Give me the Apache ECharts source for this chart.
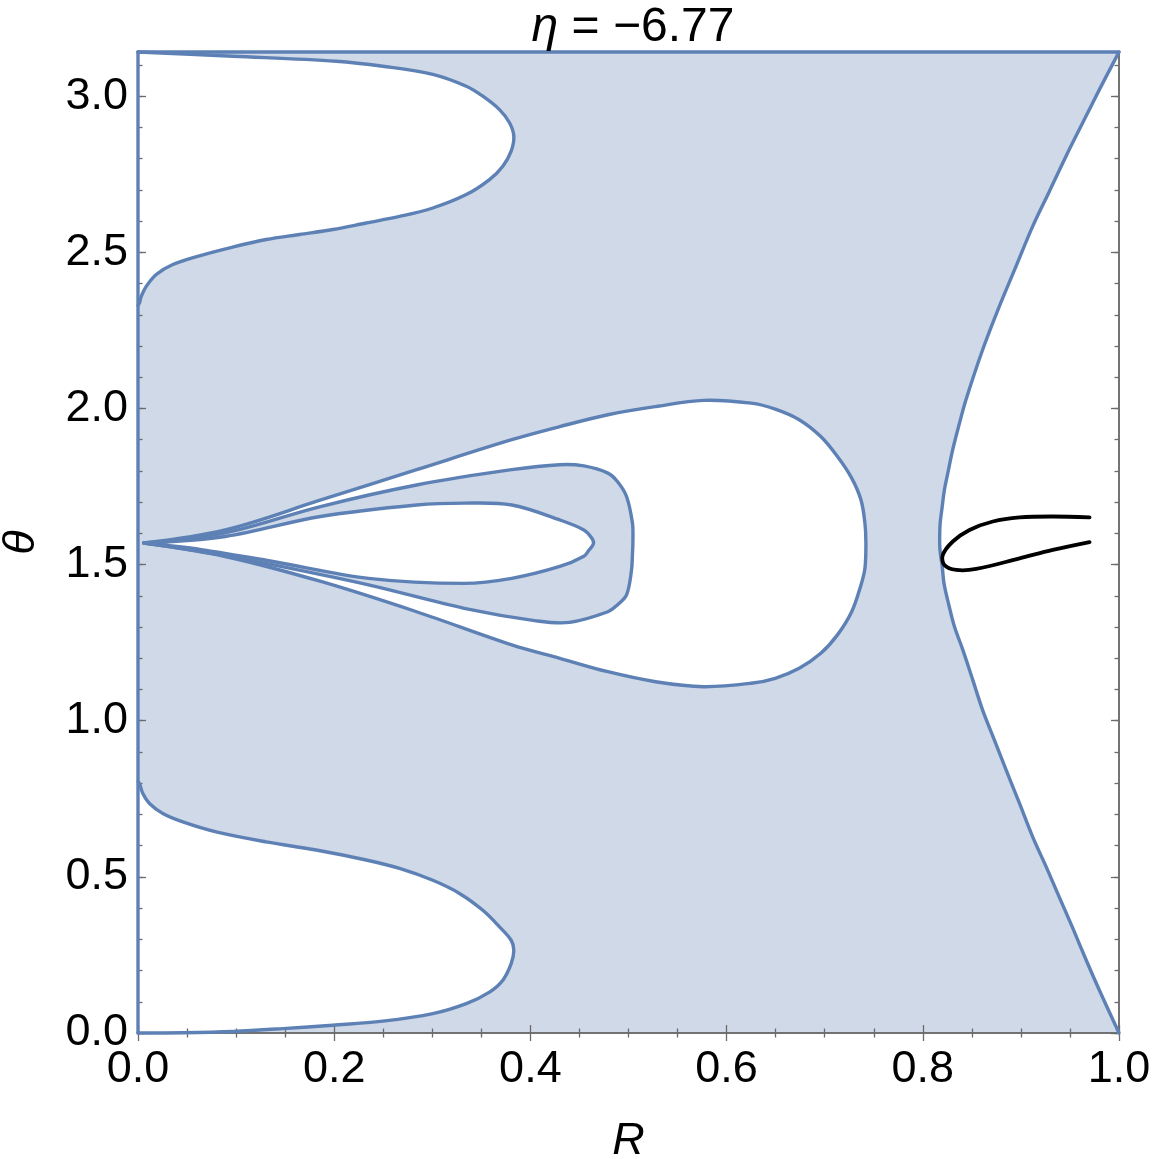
<!DOCTYPE html>
<html>
<head>
<meta charset="utf-8">
<script src="https://cdn.jsdelivr.net/npm/echarts@6/dist/echarts.min.js"></script>
<style>html,body{margin:0;padding:0;background:#fff}#c{width:1159px;height:1159px}</style>
</head>
<body>
<div id="c"></div>
<script>
// ---- data (R, theta) ----
const PI = Math.PI;
const titleText = '{i|η} = −6.77';
const xName = 'R';
const yName = 'θ';
const xRange = [0, 1];
const yRange = [0, PI];

// right boundary of the shaded region (top -> bottom)
const rightBoundary = [[1.0,3.1416],[0.980,3.021],[0.963,2.915],[0.946,2.808],[0.929,2.695],[0.912,2.583],[0.895,2.455],[0.878,2.327],[0.861,2.188],[0.844,2.028],[0.8374,1.953],[0.8305,1.868],[0.8255,1.793],[0.822,1.739],[0.8198,1.686],[0.8177,1.633],[0.8172,1.590],[0.8175,1.547],[0.8198,1.494],[0.8216,1.440],[0.827,1.365],[0.8323,1.301],[0.8408,1.227],[0.851,1.130],[0.861,1.034],[0.873,0.938],[0.885,0.842],[0.8986,0.735],[0.912,0.628],[0.9258,0.532],[0.939,0.436],[0.953,0.335],[0.9666,0.233],[0.980,0.137],[1.0,0.0]];

// white hole touching the top-left corner
const holeTop = [[0,3.1416],[0.0966,3.128],[0.202,3.112],[0.2495,3.096],[0.3005,3.070],[0.3346,3.032],[0.3515,3.000],[0.3685,2.957],[0.3787,2.915],[0.3831,2.872],[0.3804,2.824],[0.3719,2.776],[0.3583,2.733],[0.3346,2.685],[0.3005,2.642],[0.2666,2.615],[0.2326,2.594],[0.1986,2.573],[0.1646,2.557],[0.1307,2.541],[0.0966,2.517],[0.0627,2.489],[0.0355,2.461],[0.0186,2.429],[0.0084,2.391],[0.0033,2.359],[0.0015,2.338],[0,2.330]];

// white hole touching the bottom-left corner
const holeBottom = [[0,0.805],[0.0015,0.799],[0.0049,0.767],[0.0117,0.735],[0.0253,0.703],[0.0457,0.676],[0.0797,0.644],[0.1307,0.612],[0.1817,0.586],[0.2326,0.554],[0.2666,0.527],[0.3005,0.489],[0.3277,0.447],[0.3515,0.393],[0.3685,0.340],[0.3804,0.297],[0.3831,0.265],[0.3804,0.222],[0.3719,0.169],[0.3583,0.131],[0.3346,0.094],[0.3005,0.062],[0.2495,0.038],[0.1986,0.025],[0.1476,0.014],[0.0966,0.005],[0.0457,0.001],[0,0]];

// big white teardrop (starts and ends at the tip)
const dropOuter = [[0.0059,1.569],[0.0889,1.611],[0.1864,1.707],[0.284,1.804],[0.381,1.900],[0.430,1.942],[0.479,1.980],[0.5276,2.006],[0.5765,2.026],[0.625,2.017],[0.6496,1.998],[0.674,1.964],[0.696,1.910],[0.713,1.846],[0.7275,1.777],[0.737,1.707],[0.741,1.633],[0.742,1.569],[0.741,1.488],[0.737,1.435],[0.7275,1.349],[0.713,1.275],[0.696,1.216],[0.674,1.168],[0.6496,1.136],[0.625,1.120],[0.5765,1.109],[0.5276,1.125],[0.479,1.157],[0.430,1.200],[0.381,1.243],[0.284,1.349],[0.1864,1.446],[0.0889,1.526],[0.0059,1.569]];

// shaded middle teardrop
const dropMiddle = [[0.0059,1.569],[0.0889,1.602],[0.186,1.686],[0.284,1.755],[0.381,1.804],[0.430,1.820],[0.4545,1.816],[0.479,1.793],[0.4887,1.766],[0.498,1.718],[0.504,1.633],[0.5045,1.579],[0.504,1.531],[0.503,1.480],[0.498,1.403],[0.4887,1.371],[0.479,1.349],[0.440,1.315],[0.406,1.320],[0.3326,1.360],[0.235,1.435],[0.1376,1.499],[0.0644,1.542],[0.0059,1.569]];

// inner white teardrop
const dropInner = [[0.0059,1.569],[0.0889,1.590],[0.186,1.654],[0.284,1.691],[0.3326,1.697],[0.381,1.691],[0.430,1.643],[0.4545,1.611],[0.4625,1.585],[0.4643,1.567],[0.4594,1.545],[0.4545,1.527],[0.430,1.494],[0.381,1.456],[0.3326,1.440],[0.235,1.456],[0.1376,1.510],[0.0644,1.548],[0.0059,1.569]];

// black curve
const blackCurve = [[0.970,1.651],[0.9325,1.654],[0.8986,1.651],[0.8714,1.638],[0.8476,1.611],[0.8306,1.574],[0.8204,1.531],[0.822,1.499],[0.834,1.483],[0.8544,1.486],[0.8986,1.520],[0.9325,1.547],[0.970,1.572]];

const plotCorners = [[0,0],[0,PI],[1,PI],[1,0]];
const leftEdge = [[0,0],[0,PI]];
const topEdge = [[0,PI],[1,PI]];

// ---- styling ----
const FONT = '"Liberation Sans", Arial, Helvetica, sans-serif';
const BLUE = '#5e81b5';
const FILL = '#cfd9e8';
const FRAME = '#6b6b6b';
const SM = 0.35;
const LW = 3.4;

const coords = (api, pts) => pts.map(p => api.coord(p));
// filled shape drawn as a smoothed polyline; the canvas closes it with a straight segment
function fillSeries(pts, color, z, smooth) {
  return { type: 'custom', xAxisIndex: 0, yAxisIndex: 0, silent: true, clip: true, z: z, data: [[0, 0]],
    renderItem: (params, api) => ({ type: 'polyline', shape: { points: coords(api, pts), smooth: smooth }, style: { fill: color, stroke: null } }) };
}
function lineSeries(pts, color, width, z, smooth) {
  return { type: 'custom', xAxisIndex: 0, yAxisIndex: 0, silent: true, clip: false, z: z, data: [[0, 0]],
    renderItem: (params, api) => ({ type: 'polyline', shape: { points: coords(api, pts), smooth: smooth },
      style: { stroke: color, lineWidth: width, fill: null, lineJoin: 'round', lineCap: 'round' } }) };
}

const tickStyle = { color: FRAME, width: 1.3 };
const lineAx = { show: true, lineStyle: { color: FRAME, width: 1.5 } };
function xAx(pos, main) {
  return { type: 'value', min: xRange[0], max: xRange[1], interval: 0.2, position: pos, z: 5,
    axisLine: lineAx, splitLine: { show: false },
    axisTick: { show: true, inside: true, length: 8, lineStyle: tickStyle },
    minorTick: { show: true, splitNumber: 4, length: 4.5, lineStyle: tickStyle },
    axisLabel: main ? { show: true, fontSize: 45, color: '#000', fontFamily: FONT, margin: 14, formatter: v => v.toFixed(1) } : { show: false },
    name: main ? xName : '', nameLocation: 'middle', nameGap: 86,
    nameTextStyle: { fontSize: 45, fontStyle: 'italic', color: '#000', fontFamily: FONT } };
}
function yAx(pos, step, len, main) {
  return { type: 'value', min: yRange[0], max: yRange[1], interval: step, position: pos, z: 5,
    axisLine: lineAx, splitLine: { show: false },
    axisTick: { show: true, inside: true, length: len, lineStyle: tickStyle },
    axisLabel: main ? { show: true, fontSize: 45, color: '#000', fontFamily: FONT, margin: 10,
      formatter: v => (Math.abs(v * 2 - Math.round(v * 2)) < 1e-6 ? v.toFixed(1) : '') } : { show: false },
    name: main ? yName : '', nameLocation: 'middle', nameGap: 94, nameRotate: 90,
    nameTextStyle: { fontSize: 45, fontStyle: 'italic', color: '#000', fontFamily: FONT } };
}

const chart = echarts.init(document.getElementById('c'), null, { renderer: 'canvas' });
chart.setOption({
  backgroundColor: '#fff',
  animation: false,
  title: { text: titleText, left: 628, textAlign: 'center', top: -1,
    textStyle: { fontSize: 48, fontWeight: 'normal', color: '#000', fontFamily: FONT,
      rich: { i: { fontSize: 48, fontStyle: 'italic', color: '#000', fontFamily: FONT } } } },
  grid: { left: 138, top: 52, width: 981, height: 981, containLabel: false, outerBoundsMode: 'none' },
  xAxis: [xAx('bottom', true), xAx('top', false)],
  yAxis: [yAx('left', 0.5, 8, true), yAx('left', 0.1, 4.5, false), yAx('right', 0.5, 8, false), yAx('right', 0.1, 4.5, false)],
  series: [
    fillSeries(plotCorners, FILL, 1, 0),
    fillSeries(rightBoundary, '#fff', 2, SM),
    fillSeries(holeTop, '#fff', 2, SM),
    fillSeries(holeBottom, '#fff', 2, SM),
    fillSeries(dropOuter, '#fff', 2, SM),
    fillSeries(dropMiddle, FILL, 3, SM),
    fillSeries(dropInner, '#fff', 4, SM),
    lineSeries(rightBoundary, BLUE, LW, 6, SM),
    lineSeries(holeTop, BLUE, LW, 6, SM),
    lineSeries(holeBottom, BLUE, LW, 6, SM),
    lineSeries(dropOuter, BLUE, LW, 6, SM),
    lineSeries(dropMiddle, BLUE, LW, 6, SM),
    lineSeries(dropInner, BLUE, LW, 6, SM),
    lineSeries(leftEdge, BLUE, LW, 6, 0),
    lineSeries(topEdge, BLUE, LW, 6, 0),
    lineSeries(blackCurve, '#000', 3.8, 7, SM)
  ]
});
</script>
</body>
</html>
